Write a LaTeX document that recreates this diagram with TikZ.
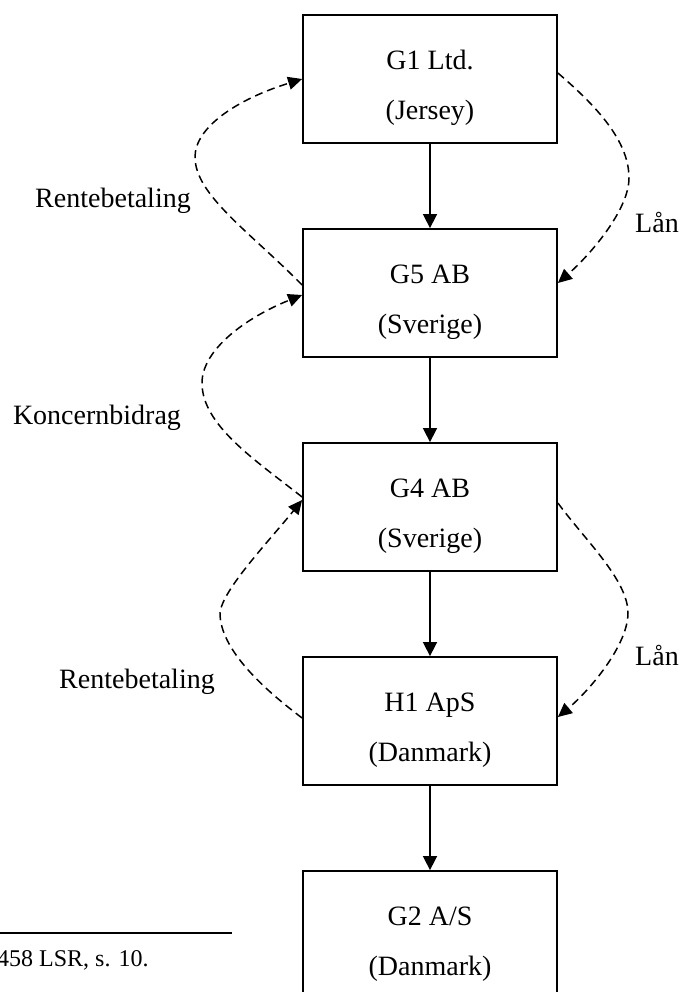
\documentclass[tikz,border=0pt]{standalone}
\usepackage{fontspec}
\setmainfont{Liberation Serif}
\usetikzlibrary{arrows.meta,calc}
\begin{document}
\begin{tikzpicture}[x=1bp,y=-1bp,
  company/.style={draw,line width=1.8bp,minimum width=254bp,minimum height=128bp,inner sep=0pt},
  nametext/.style={font=\fontsize{28bp}{34bp}\selectfont,anchor=base,inner sep=0pt},
  flowlabel/.style={font=\fontsize{28bp}{34bp}\selectfont,anchor=base,inner sep=0pt},
  notetext/.style={font=\fontsize{24bp}{28bp}\selectfont,anchor=base west,inner sep=0pt},
  owns/.style={line width=1.6bp,-{Triangle[length=14bp,width=14bp]}},
  payment/.style={line width=1.5bp,dash pattern=on 8bp off 5bp,-{Triangle[length=14bp,width=13bp]}},
]
\useasboundingbox (0,0) rectangle (680,992);
\clip (0,0) rectangle (680,992);

% ownership chain
\node[company] (g1) at (430,79) {};
\node[company] (g5) at (430,293) {};
\node[company] (g4) at (430,507) {};
\node[company] (h1) at (430,721) {};
\node[company] (g2) at (430,935) {};

\node[nametext] (g1n) at ($(g1)+(0,-10)$) {G1 Ltd.};
\node[nametext] (g1c) at ($(g1)+(0,40)$) {(Jersey)};
\node[nametext] (g5n) at ($(g5)+(0,-10)$) {G5 AB};
\node[nametext] (g5c) at ($(g5)+(0,40)$) {(Sverige)};
\node[nametext] (g4n) at ($(g4)+(0,-10)$) {G4 AB};
\node[nametext] (g4c) at ($(g4)+(0,40)$) {(Sverige)};
\node[nametext] (h1n) at ($(h1)+(0,-10)$) {H1 ApS};
\node[nametext] (h1c) at ($(h1)+(0,40)$) {(Danmark)};
\node[nametext] (g2n) at ($(g2)+(0,-10)$) {G2 A/S};
\node[nametext] (g2c) at ($(g2)+(0,40)$) {(Danmark)};

\draw[owns] (g1) -- (g5);
\draw[owns] (g5) -- (g4);
\draw[owns] (g4) -- (h1);
\draw[owns] (h1) -- (g2);

% payment flows
\draw[payment] ([yshift=8bp]g5.west) .. controls (250,232) and (195,195) .. (195,157)
  .. controls (195,128) and (235,100) .. (g1.west);
\draw[payment] ([yshift=10bp]g4.west) .. controls (255,460) and (202,425) .. (202,383)
  .. controls (202,350) and (245,318) .. ([yshift=-2bp]g5.west);
\draw[payment] ([yshift=3bp]h1.west) .. controls (265,690) and (220,650) .. (220,613)
  .. controls (222,590) and (270,540) .. ([yshift=7bp]g4.west);
\draw[payment] ([yshift=6bp]g1.east) .. controls (595,105) and (629,140) .. (629,178)
  .. controls (629,210) and (590,255) .. ([yshift=10bp]g5.east);
\draw[payment] ([yshift=4bp]g4.east) .. controls (585,540) and (628,580) .. (628,613)
  .. controls (628,645) and (590,690) .. ([yshift=4bp]h1.east);

\node[flowlabel] (rb1) at (113,207) {Rentebetaling};
\node[flowlabel] (kb) at (97,424) {Koncernbidrag};
\node[flowlabel] (rb2) at (137,688) {Rentebetaling};
\node[flowlabel] (lan1) at (657,232) {Lån};
\node[flowlabel] (lan2) at (657,665) {Lån};

% footnote rule and text
\coordinate (fl) at (0,933);
\coordinate (fr) at (232,933);
\draw[line width=1.4bp] (fl) -- (fr);
\node[notetext] (fn) at (-3,966) {458 LSR, s. 10.};
\end{tikzpicture}
\end{document}
